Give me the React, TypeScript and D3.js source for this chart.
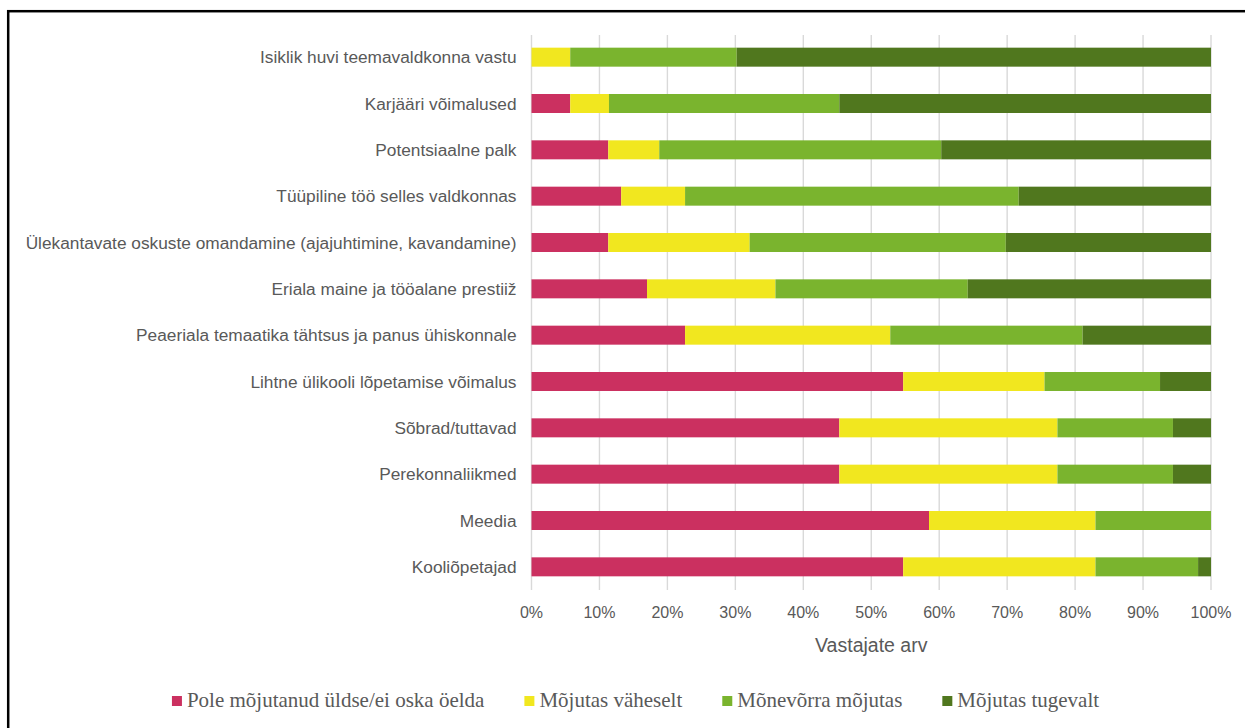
import React, { useEffect, useRef } from "react";
import * as d3 from "d3";

// categories top -> bottom
const categories = [
  "Isiklik huvi teemavaldkonna vastu",
  "Karjääri võimalused",
  "Potentsiaalne palk",
  "Tüüpiline töö selles valdkonnas",
  "Ülekantavate oskuste omandamine (ajajuhtimine, kavandamine)",
  "Eriala maine ja tööalane prestiiž",
  "Peaeriala temaatika tähtsus ja panus ühiskonnale",
  "Lihtne ülikooli lõpetamise võimalus",
  "Sõbrad/tuttavad",
  "Perekonnaliikmed",
  "Meedia",
  "Kooliõpetajad",
];

const seriesNames = [
  "Pole mõjutanud üldse/ei oska öelda",
  "Mõjutas väheselt",
  "Mõnevõrra mõjutas",
  "Mõjutas tugevalt",
];

// shares in %, same order as categories
const pole = [0, 5.7, 11.3, 13.2, 11.3, 17.0, 22.6, 54.7, 45.3, 45.3, 58.5, 54.7];
const vaheselt = [5.7, 5.7, 7.5, 9.4, 20.8, 18.9, 30.2, 20.8, 32.1, 32.1, 24.5, 28.3];
const monevorra = [24.5, 33.9, 41.5, 49.1, 37.7, 28.3, 28.3, 17.0, 17.0, 17.0, 17.0, 15.1];
const tugevalt = [69.8, 54.7, 39.7, 28.3, 30.2, 35.8, 18.9, 7.5, 5.6, 5.6, 0, 1.9];

const xTicks = [0, 10, 20, 30, 40, 50, 60, 70, 80, 90, 100];
const colors = ["#CB3060", "#F1E71F", "#7AB42E", "#50771E"];

const W = 1245;
const H = 728;
const plot = { left: 531.5, right: 1211, top: 34, bottom: 590 };
const gray = "#595959";
const sans = "'Liberation Sans', Arial, sans-serif";
const serif = "'Liberation Serif', 'Times New Roman', serif";

export default function App() {
  const legendRef = useRef<SVGGElement>(null);

  const rows = categories.map((c, i) => ({
    cat: c,
    v0: pole[i],
    v1: vaheselt[i],
    v2: monevorra[i],
    v3: tugevalt[i],
  }));
  const stacked = d3.stack<any>().keys(["v0", "v1", "v2", "v3"])(rows);

  const x = d3.scaleLinear().domain([0, 100]).range([plot.left, plot.right]);
  const y = d3
    .scaleBand<string>()
    .domain(categories)
    .range([plot.top, plot.bottom])
    .paddingInner(0.59)
    .paddingOuter(0.295);

  // legend laid out by measured text widths
  useEffect(() => {
    const g = d3.select(legendRef.current);
    g.selectAll("*").remove();
    const gap = 40;
    let cx = 0;
    seriesNames.forEach((name, i) => {
      const item = g.append("g").attr("transform", `translate(${cx},0)`);
      item
        .append("rect")
        .attr("x", 0)
        .attr("y", -11)
        .attr("width", 10)
        .attr("height", 10)
        .attr("fill", colors[i]);
      const t = item
        .append("text")
        .attr("x", 15)
        .attr("y", 0)
        .style("font-family", serif)
        .style("font-size", "21px")
        .style("fill", gray)
        .text(name);
      const w = (t.node() as SVGTextElement).getComputedTextLength();
      cx += 15 + w + gap;
    });
    const total = cx - gap;
    g.attr("transform", `translate(${635.5 - total / 2},707)`);
  }, []);

  return (
    <svg
      width={W}
      height={H}
      style={{ position: "absolute", left: 0, top: 0, display: "block", background: "#fff" }}
    >
      <rect x={0} y={0} width={W} height={H} fill="#fff" />
      {/* outer frame, cut by the window on the right and bottom */}
      <rect x={8.2} y={11.2} width={1400} height={900} fill="none" stroke="#000" strokeWidth={2.5} />

      {/* gridlines */}
      <g>
        {xTicks.map((t) => (
          <line
            key={t}
            x1={x(t)}
            x2={x(t)}
            y1={plot.top + 1}
            y2={plot.bottom}
            stroke="#d9d9d9"
            strokeWidth={1.4}
          />
        ))}
      </g>

      {/* bars */}
      <g>
        {stacked.map((s, si) => (
          <g key={s.key} fill={colors[si]}>
            {s.map((d, i) => {
              const w = x(d[1]) - x(d[0]);
              if (w <= 0) return null;
              return (
                <rect
                  key={i}
                  x={x(d[0])}
                  y={y(categories[i])}
                  width={w}
                  height={y.bandwidth()}
                />
              );
            })}
          </g>
        ))}
      </g>

      {/* category labels */}
      <g style={{ fontFamily: sans, fontSize: "17.3px", fill: gray }}>
        {categories.map((c) => (
          <text
            key={c}
            x={plot.left - 15}
            y={(y(c) as number) + y.bandwidth() / 2}
            dy="0.35em"
            textAnchor="end"
          >
            {c}
          </text>
        ))}
      </g>

      {/* x tick labels */}
      <g style={{ fontFamily: sans, fontSize: "16px", fill: gray }}>
        {xTicks.map((t) => (
          <text key={t} x={x(t)} y={618} textAnchor="middle">
            {t + "%"}
          </text>
        ))}
      </g>
      <text
        x={(plot.left + plot.right) / 2}
        y={652}
        textAnchor="middle"
        style={{ fontFamily: sans, fontSize: "19.5px", fill: gray }}
      >
        Vastajate arv
      </text>

      <g ref={legendRef} />
    </svg>
  );
}
